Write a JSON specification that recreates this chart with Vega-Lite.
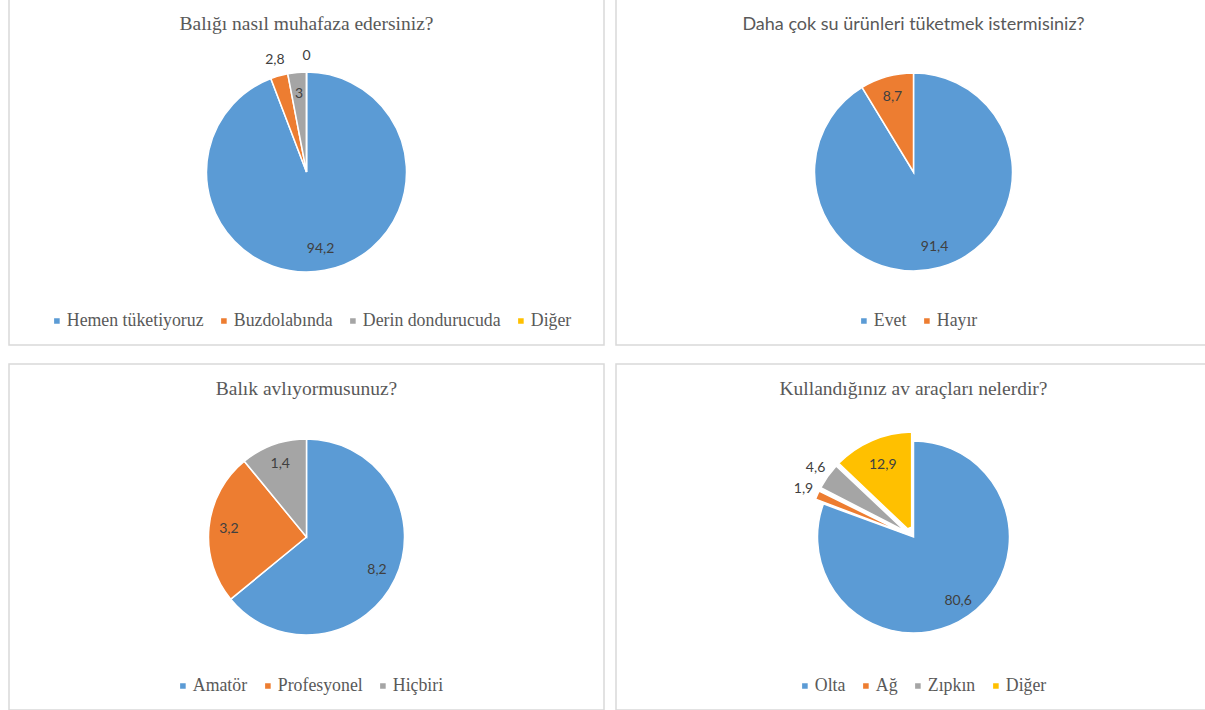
{
  "$schema": "https://vega.github.io/schema/vega-lite/v6.json",
  "padding": {"left": 8, "top": -2, "right": 0, "bottom": 0},
  "background": "white",
  "columns": 2,
  "spacing": {"row": 17, "column": 10},
  "resolve": {"scale": {"color": "independent"}, "legend": {"color": "independent"}},
  "config": {
    "view": {"stroke": "#d9d9d9", "strokeWidth": 1.5},
    "locale": {"number": {"decimal": ",", "thousands": ".", "grouping": [3], "currency": ["", " TL"]}},
    "title": {"font": "Times New Roman, Liberation Serif, serif", "fontSize": 19.5, "fontWeight": "normal", "color": "#595959", "frame": "group", "anchor": "middle", "baseline": "middle", "offset": -35},
    "legend": {
      "orient": "none", "direction": "horizontal", "title": null, "padding": 0,
      "symbolType": "square", "symbolSize": 50, "symbolStrokeWidth": 0,
      "labelFont": "Times New Roman, Liberation Serif, serif", "labelFontSize": 17.8, "labelColor": "#595959",
      "labelOffset": 1, "columnPadding": 11
    },
    "arc": {"stroke": "white", "strokeWidth": 1.5}
  },
  "concat": [
    {
      "width": 595, "height": 346,
      "view": {"stroke": "#d9d9d9", "strokeWidth": 1.5},
      "title": {"text": "Balığı nasıl muhafaza edersiniz?"},
      "data": {"values": [
        {"k": "Hemen tüketiyoruz", "v": 94.2, "i": 1},
        {"k": "Buzdolabında", "v": 2.8, "i": 2},
        {"k": "Derin dondurucuda", "v": 3, "i": 3},
        {"k": "Diğer", "v": 0, "i": 4}
      ]},
      "encoding": {
        "theta": {"field": "v", "type": "quantitative", "stack": true},
        "order": {"field": "i", "type": "quantitative"}
      },
      "layer": [
        {"mark": {"type": "arc", "radius": 100},
         "encoding": {"color": {"field": "k", "type": "nominal",
           "legend": {"legendX": 39, "legendY": 313},
           "scale": {"domain": ["Hemen tüketiyoruz", "Buzdolabında", "Derin dondurucuda", "Diğer"], "range": ["#5b9bd5", "#ed7d31", "#a5a5a5", "#ffc000"]}}}},
        {"mark": {"type": "text", "radius": 78, "font": "Lato", "fontSize": 14, "color": "#404040"},
         "encoding": {"detail": {"field": "k"},
           "text": {"condition": {"test": "datum.v >= 2.9", "field": "v", "type": "quantitative", "format": ".1~f"}, "value": ""}}},
        {"mark": {"type": "text", "radius": 116, "font": "Lato", "fontSize": 14, "color": "#404040"},
         "encoding": {"detail": {"field": "k"},
           "text": {"condition": {"test": "datum.v < 2.9", "field": "v", "type": "quantitative", "format": ".1~f"}, "value": ""}}}
      ]
    },
    {
      "width": 595, "height": 346,
      "view": {"stroke": "#d9d9d9", "strokeWidth": 1.5},
      "title": {"text": "Daha çok su ürünleri tüketmek istermisiniz?", "font": "Lato", "fontSize": 18},
      "data": {"values": [
        {"k": "Evet", "v": 91.4, "i": 1},
        {"k": "Hayır", "v": 8.7, "i": 2}
      ]},
      "encoding": {
        "theta": {"field": "v", "type": "quantitative", "stack": true},
        "order": {"field": "i", "type": "quantitative"}
      },
      "layer": [
        {"mark": {"type": "arc", "radius": 99},
         "encoding": {"color": {"field": "k", "type": "nominal",
           "legend": {"legendX": 239, "legendY": 313},
           "scale": {"domain": ["Evet", "Hayır"], "range": ["#5b9bd5", "#ed7d31"]}}}},
        {"mark": {"type": "text", "radius": 78, "font": "Lato", "fontSize": 14, "color": "#404040"},
         "encoding": {"detail": {"field": "k"},
           "text": {"field": "v", "type": "quantitative", "format": ".1~f"}}}
      ]
    },
    {
      "width": 595, "height": 346,
      "view": {"stroke": "#d9d9d9", "strokeWidth": 1.5},
      "title": {"text": "Balık avlıyormusunuz?"},
      "data": {"values": [
        {"k": "Amatör", "v": 8.2, "i": 1},
        {"k": "Profesyonel", "v": 3.2, "i": 2},
        {"k": "Hiçbiri", "v": 1.4, "i": 3}
      ]},
      "encoding": {
        "theta": {"field": "v", "type": "quantitative", "stack": true},
        "order": {"field": "i", "type": "quantitative"}
      },
      "layer": [
        {"mark": {"type": "arc", "radius": 98},
         "encoding": {"color": {"field": "k", "type": "nominal",
           "legend": {"legendX": 165, "legendY": 313},
           "scale": {"domain": ["Amatör", "Profesyonel", "Hiçbiri"], "range": ["#5b9bd5", "#ed7d31", "#a5a5a5"]}}}},
        {"mark": {"type": "text", "radius": 78, "font": "Lato", "fontSize": 14, "color": "#404040"},
         "encoding": {"detail": {"field": "k"},
           "text": {"field": "v", "type": "quantitative", "format": ".1~f"}}}
      ]
    },
    {
      "width": 595, "height": 346,
      "view": {"stroke": "#d9d9d9", "strokeWidth": 1.5},
      "title": {"text": "Kullandığınız av araçları nelerdir?"},
      "data": {"values": [
        {"k": "Olta", "v": 80.6, "i": 1},
        {"k": "Ağ", "v": 1.9, "i": 2},
        {"k": "Zıpkın", "v": 4.6, "i": 3},
        {"k": "Diğer", "v": 12.9, "i": 4}
      ]},
      "encoding": {
        "theta": {"field": "v", "type": "quantitative", "stack": true},
        "order": {"field": "i", "type": "quantitative"}
      },
      "layer": [
        {"mark": {"type": "arc", "radius": 96},
         "encoding": {"color": {"field": "k", "type": "nominal",
           "legend": {"legendX": 180, "legendY": 313},
           "scale": {"domain": ["Olta", "Ağ", "Zıpkın", "Diğer"], "range": ["#5b9bd5", "#ed7d31", "#a5a5a5", "#ffc000"]}},
           "opacity": {"condition": {"test": "datum.k === 'Olta'", "value": 1}, "value": 0}}},
        {"mark": {"type": "arc", "radius": 105, "radius2": 10, "padAngle": 0.035},
         "encoding": {"color": {"field": "k", "type": "nominal"},
           "opacity": {"condition": {"test": "datum.k !== 'Olta'", "value": 1}, "value": 0}}},
        {"mark": {"type": "text", "radius": 78, "font": "Lato", "fontSize": 14, "color": "#404040"},
         "encoding": {"detail": {"field": "k"},
           "text": {"condition": {"test": "datum.v >= 5", "field": "v", "type": "quantitative", "format": ".1~f"}, "value": ""}}},
        {"mark": {"type": "text", "radius": 120, "font": "Lato", "fontSize": 14, "color": "#404040"},
         "encoding": {"detail": {"field": "k"},
           "text": {"condition": {"test": "datum.v < 5", "field": "v", "type": "quantitative", "format": ".1~f"}, "value": ""}}}
      ]
    }
  ]
}
